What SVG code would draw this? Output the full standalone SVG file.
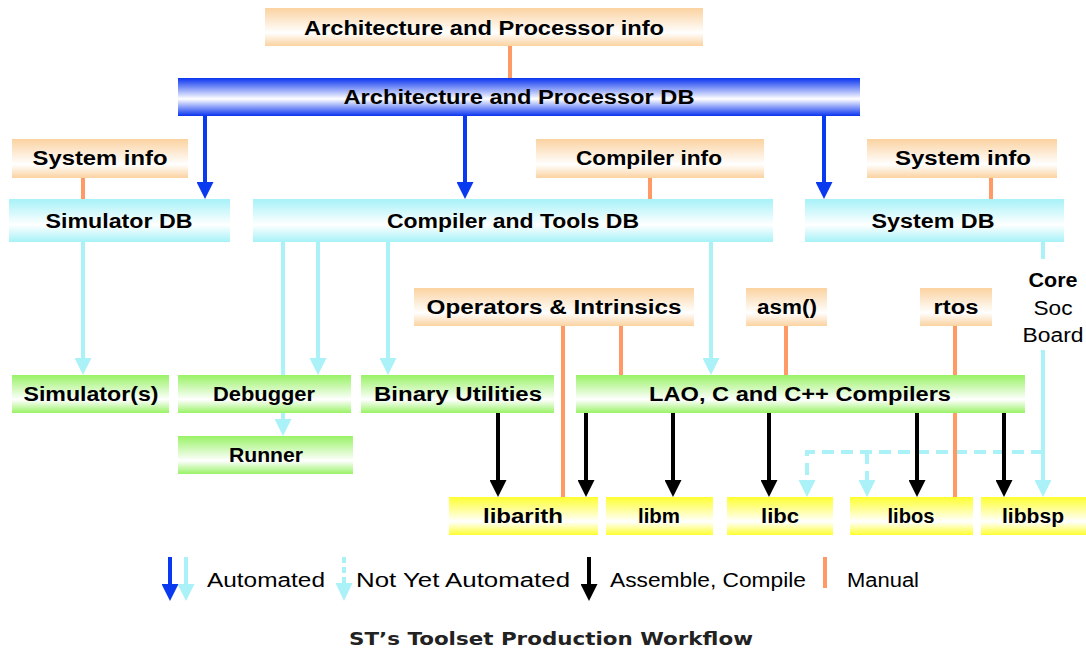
<svg xmlns="http://www.w3.org/2000/svg" width="1086" height="650" viewBox="0 0 1086 650">
<style>
.t{font-family:"Liberation Sans",Arial,sans-serif;font-weight:bold;font-size:20px;fill:#000;text-anchor:middle}
.r{font-family:"Liberation Sans",Arial,sans-serif;font-size:20px;fill:#000}
.cap{font-family:"DejaVu Sans",Verdana,sans-serif;font-weight:bold;font-size:17px;fill:#222;text-anchor:middle}
.or{stroke:#ff9966;stroke-width:4;fill:none}
.bl{stroke:#0a3af0;stroke-width:4;fill:none;marker-end:url(#ab)}
.cy{stroke:#aaf2f8;stroke-width:4;fill:none}
.cya{stroke:#aaf2f8;stroke-width:4;fill:none;marker-end:url(#ac)}
.cyd{stroke:#aaf2f8;stroke-width:4;fill:none;stroke-dasharray:12 7}
.bk{stroke:#000;stroke-width:4;fill:none;marker-end:url(#ak)}
</style>
<defs>
<linearGradient id="gP" x1="0" y1="0" x2="0" y2="1"><stop offset="0" stop-color="#fbd2a0"/><stop offset="0.65" stop-color="#ffffff"/><stop offset="1" stop-color="#fbd2a0"/></linearGradient>
<linearGradient id="gB" x1="0" y1="0" x2="0" y2="1"><stop offset="0" stop-color="#0a34f0"/><stop offset="0.55" stop-color="#ffffff"/><stop offset="1" stop-color="#0a34f0"/></linearGradient>
<linearGradient id="gC" x1="0" y1="0" x2="0" y2="1"><stop offset="0" stop-color="#a6f2f8"/><stop offset="0.6" stop-color="#ffffff"/><stop offset="1" stop-color="#a6f2f8"/></linearGradient>
<linearGradient id="gG" x1="0" y1="0" x2="0" y2="1"><stop offset="0" stop-color="#99f266"/><stop offset="0.65" stop-color="#ffffff"/><stop offset="1" stop-color="#99f266"/></linearGradient>
<linearGradient id="gY" x1="0" y1="0" x2="0" y2="1"><stop offset="0" stop-color="#ffff30"/><stop offset="0.65" stop-color="#ffffff"/><stop offset="1" stop-color="#ffff30"/></linearGradient>
<marker id="ab" viewBox="0 0 17 17" markerWidth="17" markerHeight="17" refX="9" refY="8.5" orient="auto" markerUnits="userSpaceOnUse"><path d="M0,0 L17,8.5 L0,17 z" fill="#0a3af0"/></marker>
<marker id="ac" viewBox="0 0 17 17" markerWidth="17" markerHeight="17" refX="9" refY="8.5" orient="auto" markerUnits="userSpaceOnUse"><path d="M0,0 L17,8.5 L0,17 z" fill="#aaf2f8"/></marker>
<marker id="ak" viewBox="0 0 17 17" markerWidth="17" markerHeight="17" refX="9" refY="8.5" orient="auto" markerUnits="userSpaceOnUse"><path d="M0,0 L17,8.5 L0,17 z" fill="#000"/></marker>
</defs>
<rect width="1086" height="650" fill="#fff"/>

<g id="connectors">
<line class="or" x1="510" y1="46" x2="510" y2="78"/>
<line class="bl" x1="205" y1="116" x2="205" y2="191"/>
<line class="bl" x1="465" y1="116" x2="465" y2="191"/>
<line class="bl" x1="824" y1="116" x2="824" y2="191"/>
<line class="or" x1="83" y1="178" x2="83" y2="199"/>
<line class="or" x1="650" y1="178" x2="650" y2="199"/>
<line class="or" x1="991" y1="178" x2="991" y2="199"/>
<line class="cya" x1="83" y1="242" x2="83" y2="367"/>
<line class="cya" x1="283" y1="242" x2="283" y2="428"/>
<line class="cya" x1="318" y1="242" x2="318" y2="367"/>
<line class="cya" x1="388" y1="242" x2="388" y2="367"/>
<line class="cya" x1="711" y1="242" x2="711" y2="367"/>
<line class="cy" x1="1043" y1="242" x2="1043" y2="259"/>
<line class="cya" x1="1043" y1="350" x2="1043" y2="489"/>
<path class="cyd" d="M1043,452 H807 V486"/>
<path class="cyd" d="M867,452 V486"/>
<path d="M798.5,480 L815.5,480 L807,497 z" fill="#aaf2f8"/>
<path d="M858.5,480 L875.5,480 L867,497 z" fill="#aaf2f8"/>
<line class="or" x1="563" y1="326" x2="563" y2="497"/>
<line class="or" x1="621" y1="326" x2="621" y2="375"/>
<line class="or" x1="786" y1="326" x2="786" y2="375"/>
<line class="or" x1="955" y1="326" x2="955" y2="497"/>
<line class="bk" x1="498" y1="413" x2="498" y2="489"/>
<line class="bk" x1="586" y1="413" x2="586" y2="489"/>
<line class="bk" x1="673" y1="413" x2="673" y2="489"/>
<line class="bk" x1="769" y1="413" x2="769" y2="489"/>
<line class="bk" x1="917" y1="413" x2="917" y2="489"/>
<line class="bk" x1="1004" y1="413" x2="1004" y2="489"/>
</g>

<g id="arch-info"><rect x="265" y="8" width="438" height="38" fill="url(#gP)"/><text class="t" x="484" y="35" textLength="360" lengthAdjust="spacingAndGlyphs">Architecture and Processor info</text></g>
<g id="arch-db"><rect x="178" y="78" width="682" height="38" fill="url(#gB)"/><text class="t" x="519" y="104" textLength="351" lengthAdjust="spacingAndGlyphs">Architecture and Processor DB</text></g>
<g id="sys-info-left"><rect x="12" y="139" width="176" height="39" fill="url(#gP)"/><text class="t" x="100" y="165" textLength="135" lengthAdjust="spacingAndGlyphs">System info</text></g>
<g id="compiler-info"><rect x="536" y="139" width="228" height="39" fill="url(#gP)"/><text class="t" x="649" y="165" textLength="146" lengthAdjust="spacingAndGlyphs">Compiler info</text></g>
<g id="sys-info-right"><rect x="867" y="139" width="190" height="39" fill="url(#gP)"/><text class="t" x="963" y="165" textLength="136" lengthAdjust="spacingAndGlyphs">System info</text></g>
<g id="simulator-db"><rect x="9" y="199" width="221" height="43" fill="url(#gC)"/><text class="t" x="119" y="228" textLength="147" lengthAdjust="spacingAndGlyphs">Simulator DB</text></g>
<g id="compiler-db"><rect x="253" y="199" width="520" height="43" fill="url(#gC)"/><text class="t" x="513" y="228" textLength="252" lengthAdjust="spacingAndGlyphs">Compiler and Tools DB</text></g>
<g id="system-db"><rect x="805" y="199" width="259" height="43" fill="url(#gC)"/><text class="t" x="933" y="228" textLength="123" lengthAdjust="spacingAndGlyphs">System DB</text></g>
<g id="core-soc-board">
<text class="t" x="1053" y="287" textLength="49" lengthAdjust="spacingAndGlyphs">Core</text>
<text class="r" x="1053" y="315" text-anchor="middle" textLength="39" lengthAdjust="spacingAndGlyphs">Soc</text>
<text class="r" x="1053" y="342" text-anchor="middle" textLength="61" lengthAdjust="spacingAndGlyphs">Board</text>
</g>
<g id="operators"><rect x="414" y="288" width="280" height="38" fill="url(#gP)"/><text class="t" x="554" y="314" textLength="255" lengthAdjust="spacingAndGlyphs">Operators &amp; Intrinsics</text></g>
<g id="asm"><rect x="746" y="288" width="81" height="38" fill="url(#gP)"/><text class="t" x="787" y="314" textLength="60" lengthAdjust="spacingAndGlyphs">asm()</text></g>
<g id="rtos"><rect x="920" y="288" width="72" height="38" fill="url(#gP)"/><text class="t" x="956" y="314" textLength="45" lengthAdjust="spacingAndGlyphs">rtos</text></g>
<g id="simulators"><rect x="12" y="375" width="157" height="38" fill="url(#gG)"/><text class="t" x="91" y="401" textLength="135" lengthAdjust="spacingAndGlyphs">Simulator(s)</text></g>
<g id="debugger"><rect x="178" y="375" width="173" height="38" fill="url(#gG)"/><text class="t" x="264" y="401" textLength="102" lengthAdjust="spacingAndGlyphs">Debugger</text></g>
<g id="binutils"><rect x="361" y="375" width="193" height="38" fill="url(#gG)"/><text class="t" x="458" y="401" textLength="168" lengthAdjust="spacingAndGlyphs">Binary Utilities</text></g>
<g id="compilers"><rect x="576" y="375" width="449" height="38" fill="url(#gG)"/><text class="t" x="800" y="401" textLength="302" lengthAdjust="spacingAndGlyphs">LAO, C and C++ Compilers</text></g>
<g id="runner"><rect x="178" y="436" width="175" height="38" fill="url(#gG)"/><text class="t" x="266" y="462" textLength="74" lengthAdjust="spacingAndGlyphs">Runner</text></g>
<g id="libarith"><rect x="449" y="497" width="149" height="38" fill="url(#gY)"/><text class="t" x="523" y="523" textLength="80" lengthAdjust="spacingAndGlyphs">libarith</text></g>
<g id="libm"><rect x="606" y="497" width="107" height="38" fill="url(#gY)"/><text class="t" x="659" y="523" textLength="42" lengthAdjust="spacingAndGlyphs">libm</text></g>
<g id="libc"><rect x="727" y="497" width="106" height="38" fill="url(#gY)"/><text class="t" x="780" y="523" textLength="38" lengthAdjust="spacingAndGlyphs">libc</text></g>
<g id="libos"><rect x="850" y="497" width="123" height="38" fill="url(#gY)"/><text class="t" x="911" y="523" textLength="47" lengthAdjust="spacingAndGlyphs">libos</text></g>
<g id="libbsp"><rect x="981" y="497" width="105" height="38" fill="url(#gY)"/><text class="t" x="1033" y="523" textLength="62" lengthAdjust="spacingAndGlyphs">libbsp</text></g>

<g id="legend">
<line stroke="#0a3af0" stroke-width="4" x1="170" y1="557" x2="170" y2="593" marker-end="url(#ab)"/>
<line stroke="#aaf2f8" stroke-width="4" x1="186" y1="557" x2="186" y2="593" marker-end="url(#ac)"/>
<text class="r" x="207" y="587" textLength="118" lengthAdjust="spacingAndGlyphs">Automated</text>
<line stroke="#aaf2f8" stroke-width="4" stroke-dasharray="6 4" x1="344" y1="557" x2="344" y2="584"/>
<path d="M335.5,583 L352.5,583 L344,601 z" fill="#aaf2f8"/>
<text class="r" x="356" y="587" textLength="214" lengthAdjust="spacingAndGlyphs">Not Yet Automated</text>
<line stroke="#000" stroke-width="4" x1="589" y1="557" x2="589" y2="593" marker-end="url(#ak)"/>
<text class="r" x="610" y="587" textLength="196" lengthAdjust="spacingAndGlyphs">Assemble, Compile</text>
<line class="or" x1="825" y1="557" x2="825" y2="588"/>
<text class="r" x="847" y="587" textLength="72" lengthAdjust="spacingAndGlyphs">Manual</text>
</g>
<text class="cap" x="551" y="645" textLength="404" lengthAdjust="spacingAndGlyphs">ST’s Toolset Production Workflow</text>
</svg>
